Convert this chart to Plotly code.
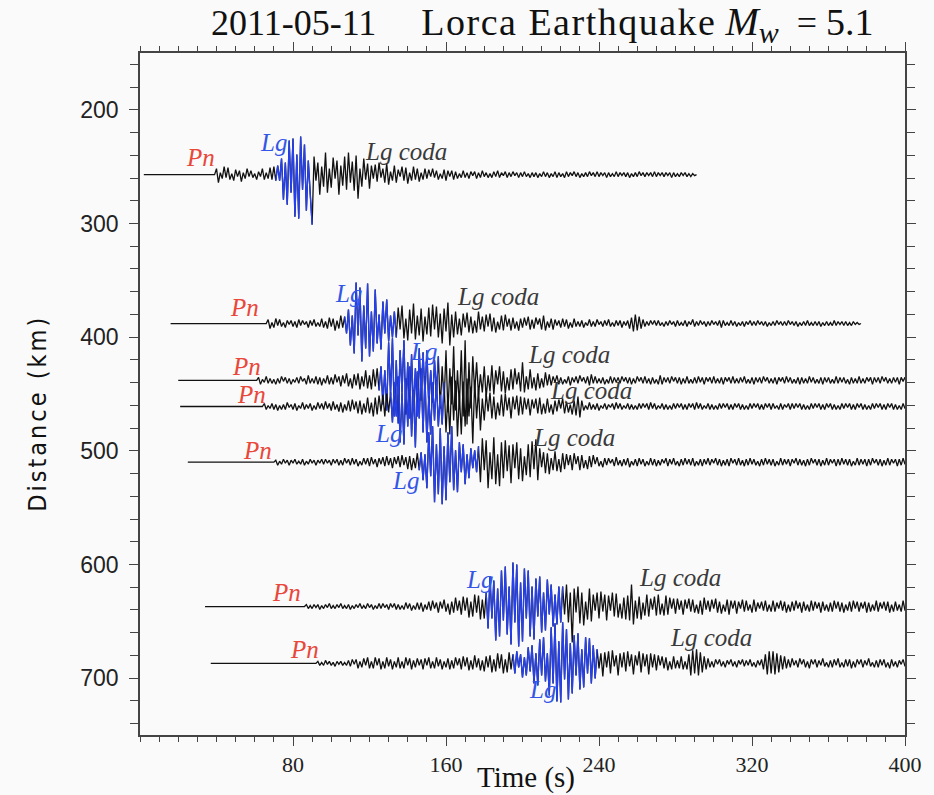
import plotly.graph_objects as go

# ---------------- data ----------------
# Epicentral distance (km) of each trace baseline
distances = [257, 388, 438, 461, 510, 637, 687]
# time (s) where each trace's flat baseline starts, and where the Pn onset begins
line_starts = [2, 16, 20, 21, 25, 34, 37]
onsets = [39, 66, 61, 64, 70, 86, 92]
# Amplitudes sampled every 1 s from the onset (positive = upward deflection)
# --- trace 1 (257 km)
t1_pn = [0, 6, -8, 2, -4, 8, -3, 7, -5, 1, -6, 5, -2, 4, -7, 2, -4, 6, -2, 4, -3, 1, -5, 3, -2, 6, -5, 2, -4, 7, -5, 8, -6]
t1_lg = [9, -6, 16, -25, 12, -30, 34, -18, 36, -42, 20, -44, 38, -15, 30, -36, 14, -20]
t1_coda = [-50, 18, -6, 12, -20, 8, -12, 22, -18, 6, -13, 17, -4, 14, -20, 9, -11, 18, -15, 22, -8, 13, -16, 19, -24, 6, -12, 16, -5, 11, -14,
           9, -4, 10, -7, 12, -3, 6, -8, 11, -10, 3, -6, 9, -8, 5, -2, 8, -6, 7, -9, 2, -6, 8, -5, 6, -7, 2, -5, 6, -4,
           5, -2, 6, -3, 4, -5, 1, -4, 5, -6, 4, -2, 4, -5, 3, -4, 1, -3, 4, -3, 2, -4, 3, -1, 3, -4, 2, -3, 4, -2,
           2, -3, 1, -3, 3, -2, 4, -3, 2, -1, 3, -3, 2, -2, 3, -1, 2, -3, 2, -2, 3, -2, 1, -3, 2, -2, 2, -3, 1, -2,
           3, -2, 2, -3, 1, -2, 3, -3, 2, -2, 1, -3, 3, -2, 2, -1, 3, -2, 2, -3, 1, -2, 2, -2, 3, -1, 2, -2, 3, -2,
           2, -1, 2, -3, 2, -2, 1, -2, 3, -2, 2, -1, 2, -2, 2, -3, 1, -2, 2, -2, 3, -1, 2, -2, 2, -1, 2, -2, 3, -2,
           2, -1, 2, -2, 2, -1, 2, -3, 2, -2, 1, -2, 2, -1, 2, -2, 1, -2, 1, -1, 0]
# --- trace 2 (388 km)
t2_pn = [0, 4, -5, 1, -4, 5, -2, 4, -3, 1, -4, 3, -1, 3, -3, 2, -4, 4, -2, 3, -1, 2, -4, 3, -2, 4, -3, 1, -3, 5, -4, 2, -5, 6, -3, 5, -7, 3, -5, 8, -4, 7]
t2_lg = [-10, 14, -22, 8, -30, 41, -12, 36, -38, 18, -25, 40, -33, 12, -28, 34, -20, 9, -26, 22, -10, 24, -18, 8, -14, 12]
t2_coda = [-14, 16, -6, 18, -15, 5, -17, 14, -10, 20, -16, 8, -12, 15, -18, 7, -11, 16, -13, 19, -6, 17, -14, 10, -20, 15, -8, 21, -22, 9, -14, 12,
           -11, 5, -12, 10, -4, 11, -9, 7, -10, 3, -9, 12, -6, 7, -8, 9, -3, 10, -8, 6, -9, 2, -6, 8, -7, 9, -3, 5, -7, 6,
           -5, 2, -7, 5, -4, 6, -2, 7, -6, 4, -5, 6, -1, 5, -6, 8, -7, 2, -4, 5, -6, 4, -2, 3, -4, 5, -3, 4, -5, 1, -4, 5, -3, 2, -3,
           3, -4, 1, -2, 4, -3, 2, -3, 4, -1, 2, -3, 3, -2, 4, -3, 1, -3, 3, -2, 3, -4, 2, -2, 3, -5, 6, -8, 9, -7, 7, -5, 4, -3, 2, -2, 3, -1, 3, -2,
           3, -2, 1, -3, 2, -2, 3, -1, 2, -3, 3, -2, 1, -2, 3, -3, 2, -1, 4, -3, 2, -2, 3, -1, 2, -3, 2, -2, 3, -1, 2, -2, 3, -4, 3, -2, 1, -2, 3, -2,
           2, -3, 1, -2, 2, -3, 2, -1, 3, -2,
           2, -2, 3, -1, 2, -2, 2, -3, 1, -2, 2, -2, 3, -1, 2, -2, 2, -2, 3, -1, 2, -2, 2, -3, 1, -2, 2, -2, 3, -2,
           1, -2, 2, -2, 2, -3, 1, -2, 2, -2, 1, -2, 3, -2, 2, -1, 2, -2, 2, -2, 1, -2, 2, -1, 1, -1, 0]
# --- trace 3 (438 km)
t3_pn = [0, 3, -4, 1, -2, 4, -3, 2, -3, 1, -4, 2, -3, 4, -1, 3, -3, 2, -4, 1,
         -2, 3, -3, 4, -1, 2, -4, 5, -3, 2, -3, 4, -4, 3, -5, 2, -3, 5, -4, 3,
         -4, 6, -2, 4, -6, 5, -3, 7, -6, 2, -8, 6, -5, 7, -9, 4, -6, 10, -8, 5,
         -9, 11, -6, 12, -10]
t3_lg = [14, -24, 10, -30, 38, -15, 42, -36, 20, -43, 30, -12, 40, -34, 18, -38, 26, -30, 12, -36, 32, -20, 28, -14, 30, -26, 10, -22, 20, -12]
t3_coda = [24, -28, 14, -22, 30, -32, 12, -24, 34, -30, 10, -26, 30, -36, 40, -44, 18, -28, 24, -12,
           18, -15, 6, -12, 14, -17, 5, -11, 15, -14, 10, -4, 14, -11, 9, -13, 3, -10, 11, -9, 12, -4, 8, -11, 18,
           -12, 4, -9, 11, -8, 3, -10, 7, -8, 2, -7, 8, -5, 6, -5,
           4, -2, 5, -4, 3, -4, 1, -3, 4, -5, 3, -2, 4, -3, 5, -1, 3, -3, 4, -5,
           6, -3, 4, -3, 2, -3, 3, -4, 1, -3, 4, -3, 3, -2, 3, -3, 4, -1, 3, -3,
           3, -4, 2, -3, 4, -1, 3, -3, 4, -3, 2, -4, 3, -3, 1, -4, 5, -4, 3, -2,
           3, -3, 4, -1, 3, -3, 3, -4, 2, -3, 4, -3, 1, -3, 3, -3, 4, -2, 3, -4,
           3, -1, 3, -3, 4, -3, 2, -3, 3, -4, 3, -1, 3, -3, 4, -3, 2, -3, 3, -2,
           4, -3, 1, -3, 3, -4, 3, -2, 3, -3, 4, -1, 3, -3, 2, -3, 3, -4, 3, -1,
           3, -3, 4, -2, 3, -3, 1, -3, 3, -4, 3, -3, 2, -3, 4, -2, 3, -3, 1, -3,
           3, -4, 3, -2, 3, -3, 1, -3, 4, -3, 3, -2, 3, -3, 1, -4, 3, -3, 2, -3,
           4, -3, 2, -3, 3, -1, 3, -4, 3, -2, 3, -3, 4, -1, 3, -3, 2, -3, 3, -2,
           3, -4, 3, -1, 3, -3, 2, -3, 3, -3]
# --- trace 4 (461 km)
t4_pn = [0, 3, -3, 1, -2, 3, -3, 2, -4, 1, -3, 2, -3, 4, -1, 2, -3, 3, -4, 1,
         -2, 4, -3, 2, -2, 3, -4, 1, -3, 4, -2, 3, -3, 5, -2, 3, -4, 5, -3, 2,
         -5, 4, -6, 2, -4, 6, -5, 7, -3, 5, -7, 6, -8, 3, -6, 9, -7, 4, -10, 9,
         -8, 11, -5, 12, -10, 13, -6, 14]
t4_lg = [-16, 24, -10, 30, -36, 14, -38, 28, -20, 40, -30, 16, -41, 35, -12, 38, -26, 30, -36, 10, -28, 24, -14, 26, -20, 12, -18]
t4_coda = [24, -26, 12, -28, 30, -14, 26, -30, 12, -28, 25, -20, 28, -10, 20, -37, 26, -12, 18, -24, 8, -14,
           13, -5, 14, -12, 10, -13, 4, -9, 12, -10, 13, -4, 9, -12, 10, -3, 11, -9, 10, -8,
           9, -3, 8, -9, 7, -2, 8, -7, 9, -8, 3, -7, 8, -6, 2, -8, 6, -5, 7, -2, 8, -7, 5, -6, 2, -8, 6, -9, 10, -11,
           6, -4, 1, -3, 4, -3, 2, -3, 3, -4, 1, -2, 3, -3, 2, -1, 3, -3, 4, -2,
           3, -3, 1, -2, 3, -3, 2, -3, 1, -3, 3, -2, 3, -1, 3, -3, 4, -2, 3, -3,
           1, -2, 3, -3, 2, -3, 1, -3, 3, -2, 3, -1, 3, -3, 2, -3, 3, -1, 3, -3,
           4, -2, 3, -3, 1, -2, 3, -3, 2, -3, 1, -3, 3, -2, 3, -1, 3, -3, 2, -3,
           3, -1, 3, -3, 2, -3, 1, -3, 3, -2, 3, -1, 3, -3, 2, -3, 3, -1, 3, -3,
           3, -2, 1, -3, 3, -3, 2, -1, 3, -3, 3, -2, 3, -1, 3, -3, 2, -3, 1, -3,
           3, -2, 3, -1, 3, -3, 2, -3, 3, -1, 3, -3, 2, -3, 1, -3, 3, -2, 3, -1,
           3, -3, 2, -3, 3, -1, 3, -3, 2, -3, 1, -3, 3, -2, 3, -1, 3, -3, 2, -3,
           3, -1, 3, -3, 2, -3, 1, -3, 3, -2, 3, -1]
# --- trace 5 (510 km)
t5_pn = [0, 2, -3, 1, -2, 3, -1, 2, -3, 2, -1, 3, -2, 1, -2, 3, -3, 1, -2, 3,
         -1, 2, -3, 2, -1, 3, -2, 3, -1, 2, -3, 3, -1, 3, -3, 2, -3, 4, -1, 3,
         -3, 4, -2, 3, -4, 1, -3, 4, -2, 4, -4, 5, -2, 3, -5, 4, -2, 5, -4, 6,
         -3, 4, -6, 5, -2, 6, -5, 7, -3, 5, -7, 6, -8, 4, -6, 9, -8]
t5_lg = [10, -18, 8, -26, 30, -14, 36, -40, 18, -32, 34, -42, 16, -38, 30, -20, 36, -28, 12, -30, 20, -10, 18, -22, 8, -16, 14, -6, 12, -10]
t5_coda = [16, -20, 24, -8, 22, -26, 10, -17, 25, -22, 8, -24, 20, -16, 22, -9, 17, -21, 18, -6, 20, -17, 14, -19, 6, -13, 18, -15, 21, -7, 23, -18,
           14, -5, 10, -11, 9, -12, 4, -8, 11, -9, 3, -10, 9, -7, 8, -3, 7, -8, 9, -2, 6, -8, 7, -6, 2, -7, 6, -5, 7, -2,
           5, -4, 1, -5, 4, -3, 4, -1, 3, -4, 5, -3, 2, -4, 3, -3, 4, -5, 1, -3,
           3, -4, 4, -2, 3, -4, 1, -3, 4, -3, 3, -4, 2, -3, 3, -1, 4, -4, 3, -2,
           4, -3, 1, -4, 3, -3, 4, -2, 3, -3, 4, -4, 1, -3, 3, -4, 3, -2, 4, -3,
           3, -1, 4, -3, 3, -4, 2, -3, 3, -4, 4, -1, 3, -3, 4, -3, 2, -4, 3, -3,
           4, -2, 3, -3, 1, -4, 3, -3, 4, -2, 3, -3, 3, -4, 1, -3, 4, -3, 3, -2,
           3, -4, 3, -1, 4, -3, 3, -3, 2, -4, 3, -3, 4, -1, 3, -3, 3, -4, 2, -3,
           4, -3, 3, -1, 3, -4, 3, -3, 4, -2, 3, -3, 3, -4, 1, -3, 4, -3, 3, -2,
           3, -4, 3, -3, 4, -1, 3, -3, 3, -4, 2, -3, 4, -3, 3, -1, 3, -4, 3, -3,
           4, -2, 3, -3, 3]
# --- trace 6 (637 km)
t6_pn = [0, 2, -2, 1, -2, 2, -1, 2, -3, 1, -2, 2, -1, 3, -2, 1, -2, 2, -1, 3,
         -2, 1, -2, 2, -3, 1, -2, 2, -1, 3, -2, 1, -2, 3, -1, 2, -3, 1, -2, 3,
         -2, 3, -1, 2, -3, 3, -1, 3, -3, 2, -3, 1, -3, 4, -2, 3, -4, 1, -3, 4,
         -3, 4, -5, 2, -3, 5, -4, 6, -2, 4, -6, 5, -2, 7, -5, 3, -8, 5, -6, 9,
         -4, 6, -8, 10, -4, 9, -11, 5, -10, 12, -6, 11, -13, 7, -12, 14]
t6_lg = [-22, 30, -12, 26, -34, 18, -30, 36, -14, 40, -28, 20, -38, 44, -16, 42, -40, 24, -35, 38, -12, 36, -30, 20, -33, 28, -10, 30, -26, 14,
         -24, 27, -8, 22, -20, 12, -18, 20, -16]
t6_coda = [20, -8, 22, -16, 14, -36, 18, -6, 20, -17, 14, -19, 5, -13, 18, -15, 12, -4, 14, -12,
           15, -5, 12, -14, 11, -4, 14, -10, 13, -11, 3, -12, 9, -13, 11, -14, 22, -18, 6, -12, 10, -13, 4, -9, 12, -10, 8, -3, 10, -9,
           12, -8, 3, -9, 11, -8, 9, -2, 8, -7,
           8, -3, 6, -8, 7, -2, 8, -5, 7, -6, 2, -7, 6, -8, 9, -3, 6, -5, 7, -2, 8, -6, 5, -7, 2, -5, 7, -8, 6, -2,
           6, -7, 5, -2, 7, -5, 6, -4, 2, -6, 7, -5, 4, -2, 5, -4, 6, -5, 2, -5,
           6, -5, 4, -2, 6, -4, 5, -6, 2, -5, 5, -4, 6, -2, 4, -6, 5, -4, 2, -5, 6, -4, 5, -2, 4, -6, 5, -4, 2, -5,
           4, -5, 6, -2, 5, -5, 4, -6, 2, -4, 5, -5, 6, -2, 5, -5, 4, -2, 5, -6, 4, -5, 2, -4, 6, -5, 4, -2, 5, -4,
           5, -6, 2, -5, 5, -4, 2, -5, 6, -4, 5, -5]
# --- trace 7 (687 km)
t7_pn = [0, 2, -2, 1, -2, 3, -1, 2, -2, 1, -3, 2, -1, 2, -2, 1, -2, 3, -3, 4,
         -1, 4, -5, 2, -4, 5, -2, 6, -5, 2, -5, 6, -2, 5, -6, 2, -5, 6, -3, 4,
         -6, 2, -4, 6, -5, 2, -5, 6, -2, 5, -6, 3, -4, 5, -2, 4, -6, 5, -2, 6,
         -5, 2, -5, 6, -3, 4, -6, 2, -4, 5, -6, 3, -5, 6, -2, 5, -6, 7, -3, 6,
         -7, 3, -6, 8, -4, 5, -7, 3, -8, 7, -4, 8, -9, 4, -8, 10, -5, 9, -10, 4,
         -9, 11, -6, 9]
t7_lg = [-10, 12, -4, 9, -14, 6, -12, 16, -8, 18, -20, 10, -22, 24, -12, 26, -18, 10, -32, 36, -20, 40, -38, 22, -39, 41, -16, 34, -36, 20,
         -30, 28, -12, 30, -26, 14, -24, 26, -10, 25, -20, 18, -15]
t7_coda = [14, -5, 10, -13, 11, -4, 12, -10, 13, -3, 8, -12, 10, -4, 11, -8, 12, -3, 9, -11, 8, -2, 12, -9, 10, -3, 9, -11, 10, -4, 9, -7,
           8, -2, 7, -5, 6, -7, 2, -6, 7, -5, 3, -5, 7, -6, 2, -6, 9, -12, 13, -10, 14, -12, 11, -9, 7, -6, 5, -4, 2, -4,
           4, -1, 4, -3, 2, -4, 3, -1, 4, -3, 2, -4, 3, -1, 4, -3, 3, -2, 4, -3, 1, -4, 3, -2, 4,
           -6, 9, -11, 12, -10, 12, -11, 10, -9, 8, -6, 7, -5, 4, -4,
           5, -2, 3, -4, 5, -1, 4, -4, 2, -5, 4, -1, 4, -4, 3, -2, 5, -3, 1, -4, 3, -4, 4, -2, 5, -4, 1, -4, 4, -3,
           4, -5, 2, -4, 4, -1, 4, -4, 3, -2, 5, -3, 1, -4, 3, -4, 4, -2, 4, -4, 1, -5, 4, -3, 2, -4, 3, -1, 4, -3,
           4, -4, 2, -4]

pn_amps = [t1_pn, t2_pn, t3_pn, t4_pn, t5_pn, t6_pn, t7_pn]
lg_amps = [t1_lg, t2_lg, t3_lg, t4_lg, t5_lg, t6_lg, t7_lg]
coda_amps = [t1_coda, t2_coda, t3_coda, t4_coda, t5_coda, t6_coda, t7_coda]

# phase-label anchor points (time s, distance km) for each trace
pn_label_pos = [(31.7, 242), (54.5, 374), (55.6, 426), (58.2, 450), (61.3, 500), (76.4, 625), (86.2, 675)]
lg_label_pos = [(69.6, 229), (109.1, 362), (148.0, 413), (129.9, 485), (138.7, 526.5), (177.7, 613.5), (210.4, 710)]
coda_label_pos = [(139.2, 237), (187.0, 364), (224.4, 415), (235.8, 446.5), (227.0, 488.5), (282.1, 611), (298.7, 664)]

x_ticks = [80, 160, 240, 320, 400]
y_ticks = [200, 300, 400, 500, 600, 700]

# ---------------- figure ----------------
KM_PER_UNIT = 0.88   # amplitude scaling to the distance axis
BLACK = "#111111"
BLUE = "#2540f2"
RED = "#e8473a"
LGBLUE = "#3456e6"
CODA = "#3a3a3a"
BG = "#fafafa"

fig = go.Figure()
for i, dist in enumerate(distances):
    amps = pn_amps[i] + lg_amps[i] + coda_amps[i]
    times = [onsets[i] + k for k in range(len(amps))]
    xs = [line_starts[i]] + times
    ys = [dist] + [dist - a * KM_PER_UNIT for a in amps]
    fig.add_trace(go.Scatter(x=xs, y=ys, mode="lines",
                             line=dict(color=BLACK, width=1.3),
                             hoverinfo="skip", showlegend=False))
    a0 = len(pn_amps[i]) - 1
    a1 = len(pn_amps[i]) + len(lg_amps[i]) + 1
    fig.add_trace(go.Scatter(x=times[a0:a1], y=[dist - a * KM_PER_UNIT for a in amps[a0:a1]],
                             mode="lines", line=dict(color=BLUE, width=1.3),
                             hoverinfo="skip", showlegend=False))

lab_font = "Liberation Serif, Times New Roman, serif"
for (xp, yp) in pn_label_pos:
    fig.add_annotation(x=xp, y=yp, text="<i>Pn</i>", showarrow=False,
                       font=dict(family=lab_font, size=25, color=RED))
for (xp, yp) in lg_label_pos:
    fig.add_annotation(x=xp, y=yp, text="<i>Lg</i>", showarrow=False,
                       font=dict(family=lab_font, size=25, color=LGBLUE))
for (xp, yp) in coda_label_pos:
    fig.add_annotation(x=xp, y=yp, text="<i>Lg coda</i>", showarrow=False,
                       font=dict(family=lab_font, size=25, color=CODA))

# title
fig.add_annotation(xref="paper", yref="paper", x=0.0896, y=1.042, xanchor="left", yanchor="middle",
                   text="2011-05-11&nbsp;&nbsp;&nbsp;&nbsp;&nbsp;"
                        "<span style='font-size:38px;letter-spacing:1.5px'>Lorca Earthquake</span> "
                        "<i><span style='font-size:40px'>M</span><sub><span style='font-size:30px'>w</span></sub></i>"
                        "&nbsp;&nbsp;=&nbsp;<span style='font-size:38px'>5.1</span>",
                   showarrow=False, font=dict(family=lab_font, size=36, color="#111"))
# axis titles
fig.add_annotation(xref="paper", yref="paper", x=0.505, y=-0.062, xanchor="center", yanchor="middle",
                   text="Time (s)", showarrow=False,
                   font=dict(family=lab_font, size=29, color="#111"))
fig.add_annotation(xref="paper", yref="paper", x=-0.135, y=0.472, xanchor="center", yanchor="middle",
                   text="<span style='letter-spacing:3px'>Distance (km)</span>", textangle=-90, showarrow=False,
                   font=dict(family="Liberation Sans Narrow, DejaVu Sans Condensed, Liberation Sans, sans-serif",
                             size=25, color="#111"))

AX = "#444444"
fig.update_xaxes(range=[0, 400], tickvals=x_ticks, ticktext=[str(v) for v in x_ticks],
                 ticks="outside", ticklen=9, tickwidth=1.3, tickcolor=AX,
                 showline=True, linecolor=AX, linewidth=1.6, mirror="ticks",
                 showgrid=False, zeroline=False,
                 tickfont=dict(family=lab_font, size=22, color="#222"),
                 minor=dict(dtick=10, tick0=0, ticks="outside", ticklen=5, tickwidth=1, tickcolor=AX, showgrid=False))
fig.update_yaxes(range=[750, 150], tickvals=y_ticks, ticktext=[str(v) for v in y_ticks],
                 ticks="outside", ticklen=9, tickwidth=1.3, tickcolor=AX,
                 showline=True, linecolor=AX, linewidth=1.6, mirror="ticks",
                 showgrid=False, zeroline=False, ticklabelstandoff=6,
                 tickfont=dict(family="Liberation Sans, Arial, sans-serif", size=23, color="#222"),
                 minor=dict(dtick=20, tick0=0, ticks="outside", ticklen=8, tickwidth=1, tickcolor=AX, showgrid=False))

fig.update_layout(width=934, height=795,
                  margin=dict(l=140, r=24, t=53, b=60),
                  paper_bgcolor=BG, plot_bgcolor=BG,
                  showlegend=False)

fig.write_html("out.html", config={"displayModeBar": False},
               post_script="document.body.style.margin='0';document.body.style.background='" + BG + "';")
